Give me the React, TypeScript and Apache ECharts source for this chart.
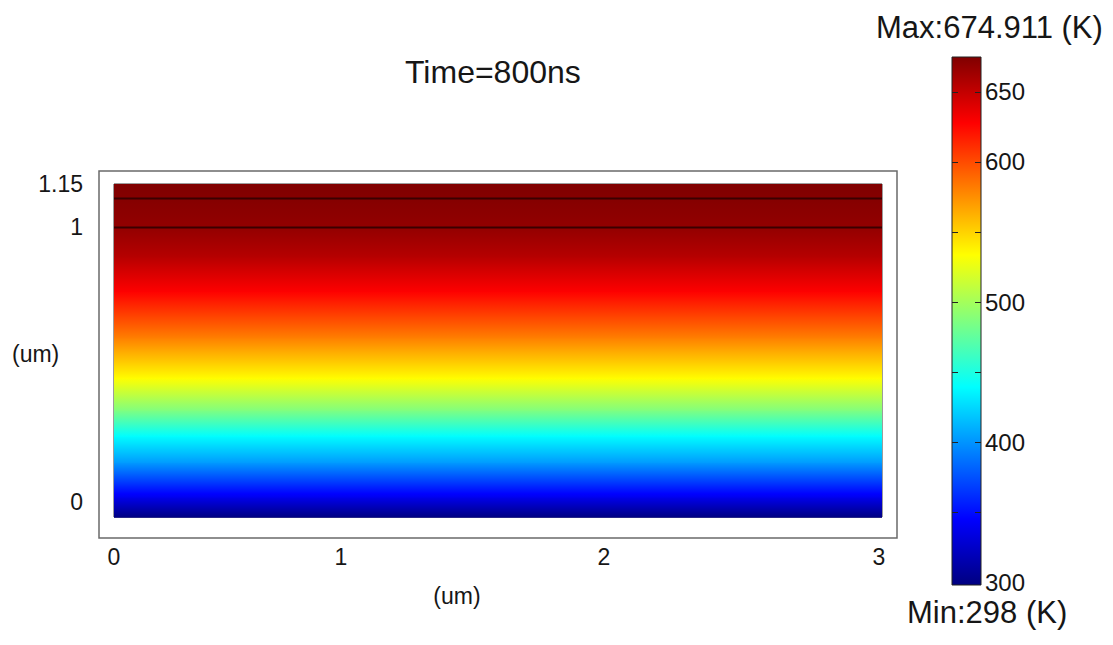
import React, { useEffect, useRef } from "react";
import * as echarts from "echarts";

// ---- data ----
const TITLE = "Time=800ns";
const X_NAME = "(um)";
const Y_NAME = "(um)";
const X_MIN = 0;
const X_MAX = 3;
const Y_MIN = 0;
const Y_MAX = 1.15;
const X_TICKS = [0, 1, 2, 3];
const Y_TICKS = [0, 1, 1.15];
// temperature profile across the thickness (depth in um -> T in K)
const DEPTH = [0, 0.07, 0.19, 0.28, 0.37, 0.48, 0.62, 0.78, 0.9, 1.0, 1.1, 1.15];
const TEMP = [298, 339, 403, 439, 487, 534, 581, 628, 655, 668, 673, 675];
// layer interfaces
const LAYER_LINES = [1.0, 1.1];
// colour bar
const T_MIN = 298;
const T_MAX = 674.911;
const CB_LABELS = [300, 400, 500, 600, 650];
const CB_TICKS = [350, 400, 450, 500, 550, 600, 650];

const FONT = "'Liberation Sans', Arial, sans-serif";
const TXT = "#161616";

// jet colormap stops
const JET: [number, number[]][] = [
  [0, [0, 0, 128]],
  [0.125, [0, 0, 255]],
  [0.375, [0, 255, 255]],
  [0.625, [255, 255, 0]],
  [0.875, [255, 0, 0]],
  [1, [128, 0, 0]],
];

function jet(t: number): string {
  const v = Math.max(0, Math.min(1, t));
  for (let i = 0; i < JET.length - 1; i++) {
    const [a, ca] = JET[i];
    const [b, cb] = JET[i + 1];
    if (v <= b) {
      const f = (v - a) / (b - a);
      const c = ca.map((x, k) => Math.round(x + (cb[k] - x) * f));
      return `rgb(${c[0]},${c[1]},${c[2]})`;
    }
  }
  return "rgb(128,0,0)";
}
const tempColor = (T: number) => jet((T - T_MIN) / (T_MAX - T_MIN));

export default function App() {
  const ref = useRef<HTMLDivElement>(null);
  useEffect(() => {
    if (!ref.current) return;
    const chart = echarts.init(ref.current, undefined, { renderer: "svg" });

    const segs = DEPTH.slice(0, -1).map((d, i) => [X_MIN, X_MAX, d, DEPTH[i + 1], TEMP[i], TEMP[i + 1]]);

    const xShift: Record<number, number> = { 0: 0, 1: 58, 2: 44, 3: 6 };

    const option: any = {
      animation: false,
      backgroundColor: "#fff",
      textStyle: { fontFamily: FONT },
      title: [
        { text: TITLE, left: 405, top: 56, padding: 0, textStyle: { fontSize: 32, fontWeight: "normal", color: TXT, fontFamily: FONT } },
        { text: `Max:${T_MAX} (K)`, left: 876, top: 12, padding: 0, textStyle: { fontSize: 31, fontWeight: "normal", color: TXT, fontFamily: FONT } },
        { text: `Min:${T_MIN} (K)`, left: 907, top: 597, padding: 0, textStyle: { fontSize: 31, fontWeight: "normal", color: TXT, fontFamily: FONT } },
        { text: Y_NAME, left: 12, top: 342, padding: 0, textStyle: { fontSize: 23, fontWeight: "normal", color: TXT, fontFamily: FONT } },
      ],
      graphic: [
        { type: "rect", z: -1, shape: { x: 99, y: 171, width: 798, height: 367 }, style: { fill: "none", stroke: "#6a6a6a", lineWidth: 1.5 } },
      ],
      grid: [
        { left: 114, top: 184, width: 768, height: 333, show: true, borderColor: "#3a3a3a", borderWidth: 1, outerBoundsMode: "none", containLabel: false },
        { left: 952, top: 57, width: 29, height: 528, show: true, borderColor: "#222", borderWidth: 1, outerBoundsMode: "none", containLabel: false, z: 5 },
      ],
      xAxis: [
        {
          type: "value", gridIndex: 0, min: X_MIN, max: X_MAX, interval: 1,
          axisLine: { show: false }, axisTick: { show: false }, splitLine: { show: false },
          axisLabel: {
            customValues: X_TICKS,
            fontSize: 23, color: TXT, margin: 28, fontFamily: FONT,
            formatter: (v: number) => `{s${Math.round(v)}|${v}}`,
            rich: Object.fromEntries(X_TICKS.map((t) => [`s${t}`, { fontSize: 23, color: TXT, fontFamily: FONT, padding: [0, xShift[t] || 0, 0, 0] }])),
          },
          name: `{n|${X_NAME}}`, nameLocation: "middle", nameGap: 67,
          nameTextStyle: { rich: { n: { fontSize: 23, color: TXT, fontFamily: FONT, padding: [0, 82, 0, 0] } } },
        },
        { type: "category", gridIndex: 1, data: ["T"], show: false },
      ],
      yAxis: [
        {
          type: "value", gridIndex: 0, min: Y_MIN, max: Y_MAX,
          axisLine: { show: false }, axisTick: { show: false }, splitLine: { show: false },
          axisLabel: {
            customValues: Y_TICKS,
            fontSize: 23, color: TXT, margin: 31, fontFamily: FONT,
            formatter: (v: number) => (v === 0 ? "{z|0}" : `${v}`),
            rich: { z: { fontSize: 23, color: TXT, fontFamily: FONT, padding: [0, 0, 30, 0] } },
          },
        },
        {
          type: "value", gridIndex: 1, min: T_MIN, max: T_MAX, position: "right", z: 10,
          axisLine: { show: false }, splitLine: { show: false },
          axisTick: { show: true, inside: true, length: 6, customValues: CB_TICKS, lineStyle: { color: "#222", width: 1 } },
          axisLabel: { customValues: CB_LABELS, fontSize: 24, color: TXT, margin: 4, fontFamily: FONT },
        },
        {
          type: "value", gridIndex: 1, min: T_MIN, max: T_MAX, position: "left", z: 10,
          axisLine: { show: false }, splitLine: { show: false },
          axisTick: { show: true, inside: true, length: 6, customValues: CB_TICKS, lineStyle: { color: "#222", width: 1 } },
          axisLabel: { show: false },
        },
      ],
      series: [
        {
          type: "custom",
          xAxisIndex: 0, yAxisIndex: 0,
          data: segs,
          encode: { x: [0, 1], y: [2, 3] },
          renderItem: (_p: any, api: any) => {
            const x0 = api.value(0), x1 = api.value(1);
            const d0 = api.value(2), d1 = api.value(3);
            const t0 = api.value(4), t1 = api.value(5);
            const tl = api.coord([x0, d1]);
            const br = api.coord([x1, d0]);
            const stops = [];
            const n = 10;
            for (let k = 0; k <= n; k++) {
              const o = k / n;
              stops.push({ offset: o, color: tempColor(t1 + (t0 - t1) * o) });
            }
            return {
              type: "rect",
              shape: { x: tl[0], y: tl[1], width: br[0] - tl[0], height: br[1] - tl[1] + 0.8 },
              style: { fill: { type: "linear", x: 0, y: 0, x2: 0, y2: 1, colorStops: stops, global: false } },
            };
          },
          z: 1,
        },
        ...LAYER_LINES.map((y) => ({
          type: "line",
          xAxisIndex: 0, yAxisIndex: 0,
          data: [[X_MIN, y], [X_MAX, y]],
          showSymbol: false, symbol: "none",
          lineStyle: { color: "#3a0000", width: 2 },
          z: 3, silent: true,
        })),
        {
          type: "bar", xAxisIndex: 1, yAxisIndex: 1, stack: "cb",
          data: [T_MIN], barWidth: "100%",
          itemStyle: { color: "rgba(0,0,0,0)" }, silent: true, z: 1,
        },
        {
          type: "bar", xAxisIndex: 1, yAxisIndex: 1, stack: "cb",
          data: [T_MAX - T_MIN], barWidth: "100%", z: 1,
          itemStyle: {
            color: new echarts.graphic.LinearGradient(0, 1, 0, 0, JET.map(([o, c]) => ({ offset: o, color: `rgb(${c[0]},${c[1]},${c[2]})` }))),
          },
          silent: true,
        },
      ],
    };
    chart.setOption(option);
    return () => chart.dispose();
  }, []);
  return <div ref={ref} style={{ position: "absolute", left: 0, top: 0, width: 1113, height: 645 }} />;
}
